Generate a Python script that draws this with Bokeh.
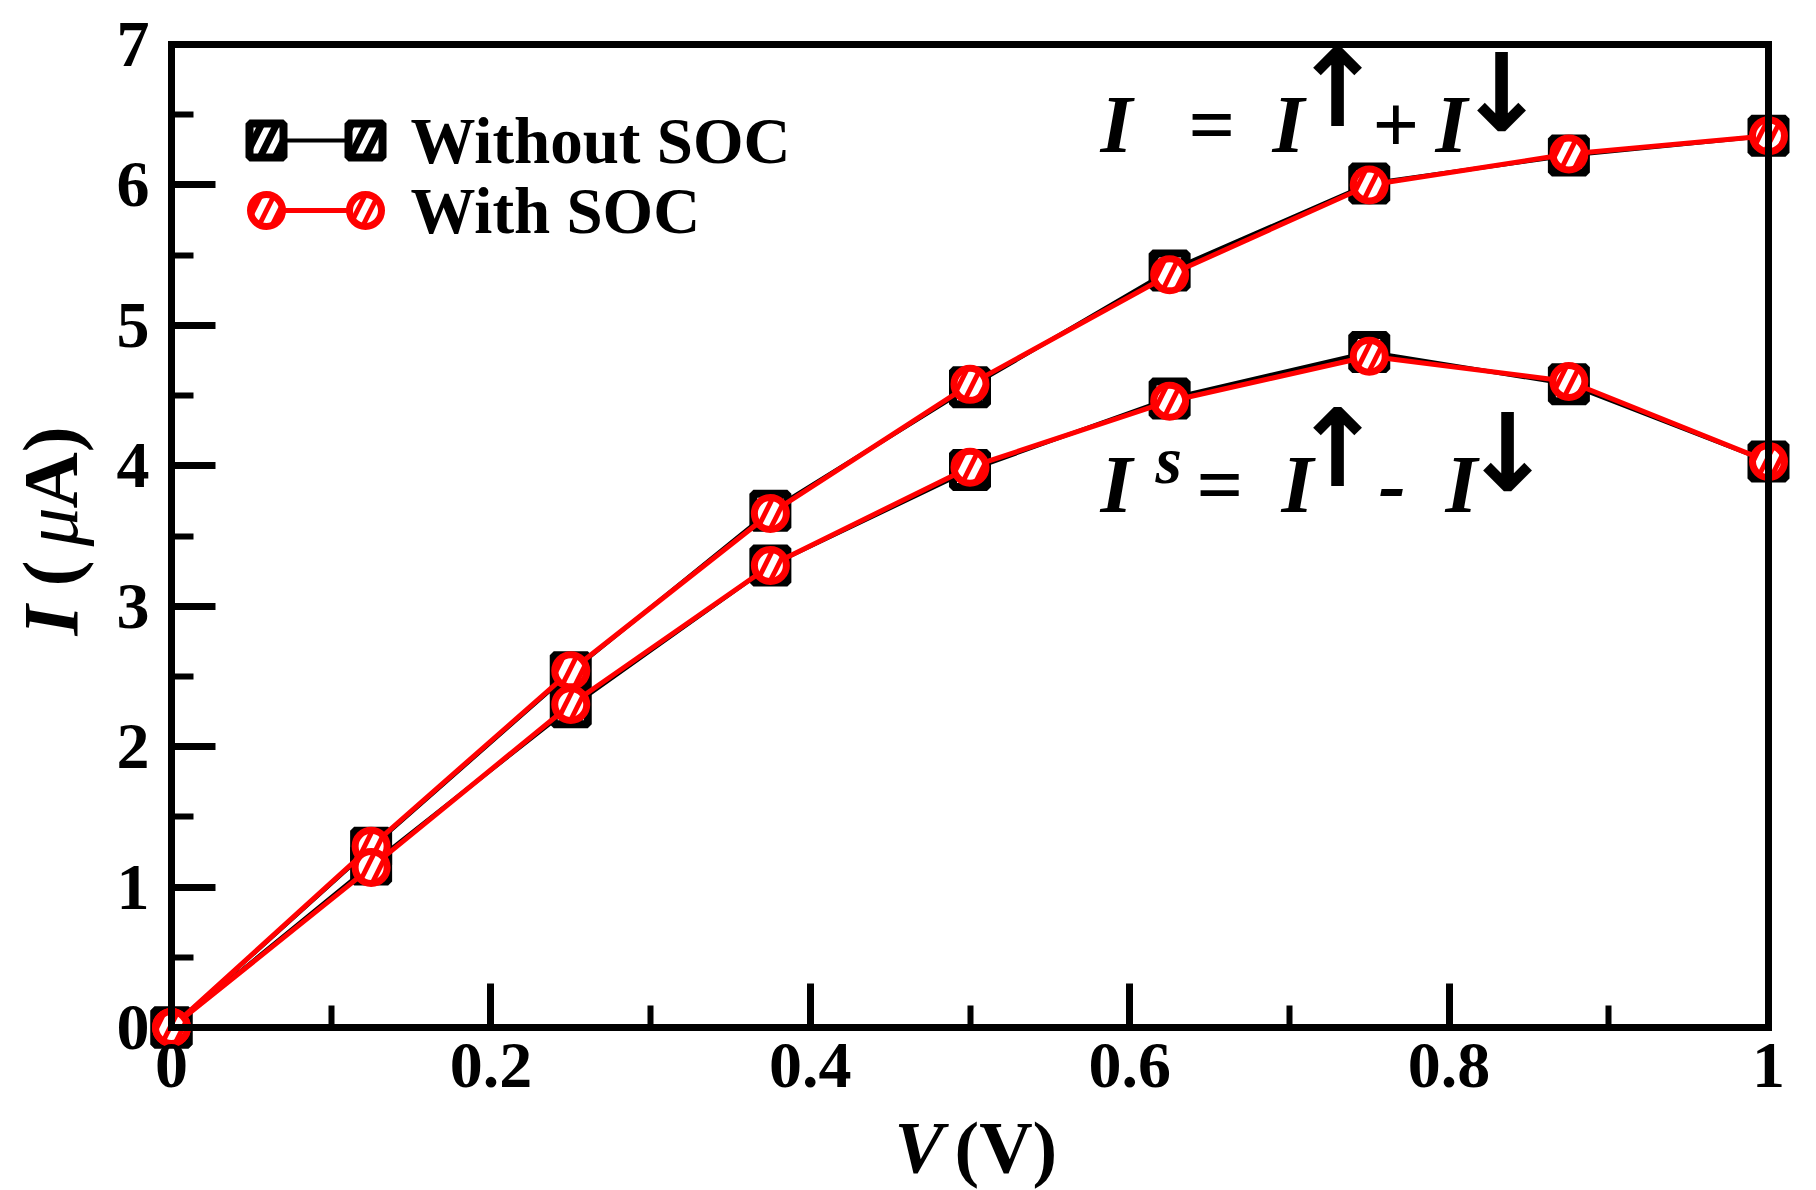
import math
from bokeh.plotting import figure
from bokeh.models import Range1d, FixedTicker, NumeralTickFormatter, Label
from bokeh.embed import file_html
from bokeh.resources import INLINE

# ---------------- data ----------------
V = [0.0, 0.125, 0.25, 0.375, 0.5, 0.625, 0.75, 0.875, 1.0]
I_total_noSOC = [0.0, 1.28, 2.53, 3.68, 4.56, 5.39, 6.01, 6.21, 6.35]
I_total_SOC = [0.0, 1.29, 2.54, 3.66, 4.58, 5.36, 6.00, 6.22, 6.35]
I_spin_noSOC = [0.0, 1.16, 2.28, 3.29, 3.97, 4.48, 4.81, 4.58, 4.03]
I_spin_SOC = [0.0, 1.14, 2.30, 3.29, 3.99, 4.46, 4.78, 4.60, 4.03]

x_ticks = [0.0, 0.2, 0.4, 0.6, 0.8, 1.0]
x_minor = [0.1, 0.3, 0.5, 0.7, 0.9]
y_ticks = [0, 1, 2, 3, 4, 5, 6, 7]
y_minor = [0.5, 1.5, 2.5, 3.5, 4.5, 5.5, 6.5]

x_lim = (0.0, 1.0)
y_lim = (0.0, 7.0)

series_names = ["Without SOC", "With SOC"]
x_title = ("V", "(V)")
y_title = ("I", "(", "\u03bc", "A)")

FONT = "Liberation Serif"
ARW = "DejaVu Sans"
RED = "#ff0000"

# ---------------- layout constants (px) ----------------
W, H = 1816, 1190
BOX_L, BOX_T, BOX_W, BOX_H = 171, 44, 1597, 983   # drawn axes box
sx = (x_lim[1] - x_lim[0]) / BOX_W
sy = (y_lim[1] - y_lim[0]) / BOX_H


def px2x(px):
    return x_lim[0] + (px - BOX_L) * sx


def py2y(py):
    return y_lim[0] + (BOX_T + BOX_H - py) * sy


# the frame fills the whole canvas so that edge markers and all texts stay visible
p = figure(frame_width=W, frame_height=H, min_border=0,
           x_range=Range1d(px2x(0), px2x(W)), y_range=Range1d(py2y(H), py2y(0)),
           output_backend="svg", toolbar_location=None,
           background_fill_color="white", border_fill_color="white")

p.grid.visible = False
p.outline_line_color = None

for ax, tk, mn in ((p.xaxis[0], x_ticks, x_minor), (p.yaxis[0], y_ticks, y_minor)):
    ax.ticker = FixedTicker(ticks=tk, minor_ticks=mn)
    ax.fixed_location = 0
    ax.axis_line_color = None
    ax.major_tick_in = 44
    ax.major_tick_out = 0
    ax.minor_tick_in = 22
    ax.minor_tick_out = 0
    ax.major_tick_line_width = 7
    ax.minor_tick_line_width = 6
    ax.major_tick_line_color = "black"
    ax.minor_tick_line_color = "black"
    ax.major_label_text_font = FONT
    ax.major_label_text_font_style = "bold"
    ax.major_label_text_font_size = "66px"
    ax.major_label_text_color = "black"

p.xaxis[0].formatter = NumeralTickFormatter(format="0.[0]")
p.xaxis[0].major_label_standoff = 16
p.yaxis[0].major_label_standoff = 22

SQ = dict(marker="square", size=34, fill_color="white", line_color="black",
          line_width=8, hatch_pattern="/", hatch_color="black",
          hatch_weight=7, hatch_scale=30)
CI = dict(marker="circle", size=32, fill_color="white", line_color=RED,
          line_width=7, hatch_pattern="/", hatch_color=RED,
          hatch_weight=5, hatch_scale=26)

# ---------------- series ----------------
for y in (I_total_noSOC, I_spin_noSOC):
    p.line(V, y, line_color="black", line_width=4)
    p.scatter(V, y, **SQ)
for y in (I_total_SOC, I_spin_SOC):
    p.line(V, y, line_color=RED, line_width=5)
    p.scatter(V, y, **CI)

# axes box drawn over the data, at the axis limits
p.quad(left=[x_lim[0]], right=[x_lim[1]], bottom=[y_lim[0]], top=[y_lim[1]],
       fill_color=None, line_color="black", line_width=7, line_join="miter")

# ---------------- legend (xmgrace style: symbol-line-symbol) ----------------
leg_x = [px2x(266), px2x(365)]
leg_y = [py2y(140), py2y(210)]
p.line(leg_x, [leg_y[0]] * 2, line_color="black", line_width=4)
p.scatter(leg_x, [leg_y[0]] * 2, **SQ)
p.line(leg_x, [leg_y[1]] * 2, line_color=RED, line_width=5)
p.scatter(leg_x, [leg_y[1]] * 2, **CI)


def lab(text, px, py, size, style="bold italic", font=FONT, align="left",
        baseline="middle", angle=0.0):
    p.add_layout(Label(x=px2x(px), y=py2y(py), text=text, text_font=font,
                       text_font_style=style, text_font_size=size,
                       text_color="black", text_align=align,
                       text_baseline=baseline, angle=angle))


for name, py in zip(series_names, (140, 210)):
    lab(name, 410, py, "65px", style="bold")

# ---------------- formulas ----------------
# I = I(up) + I(down)
lab("I", 1100, 124, "82px")
lab("=", 1188, 124, "82px", style="bold")
lab("I", 1272, 124, "82px")
lab("\u2191", 1337, 88, "108px", style="bold", font=ARW, align="center")
lab("+", 1372, 124, "82px", style="bold")
lab("I", 1435, 124, "82px")
lab("\u2193", 1501, 93, "108px", style="bold", font=ARW, align="center")

# I^s = I(up) - I(down)
lab("I", 1100, 484, "82px")
lab("s", 1155, 459, "68px")
lab("=", 1196, 484, "82px", style="bold")
lab("I", 1281, 484, "82px")
lab("\u2191", 1337, 448, "108px", style="bold", font=ARW, align="center")
lab("-", 1378, 484, "82px")
lab("I", 1445, 484, "82px")
lab("\u2193", 1507, 453, "108px", style="bold", font=ARW, align="center")

# ---------------- axis titles (mixed font styles) ----------------
lab(x_title[0], 894, 1147, "74px")
lab(x_title[1], 954, 1147, "74px", style="bold")

rot = math.pi / 2
lab(y_title[0], 50, 635, "78px", angle=rot)
lab(y_title[1], 50, 586, "78px", style="bold", angle=rot)
lab(y_title[2], 50, 546, "78px", style="italic", angle=rot)
lab(y_title[3], 50, 508, "78px", style="bold", angle=rot)

open("out.html", "w").write(file_html(p, INLINE))
